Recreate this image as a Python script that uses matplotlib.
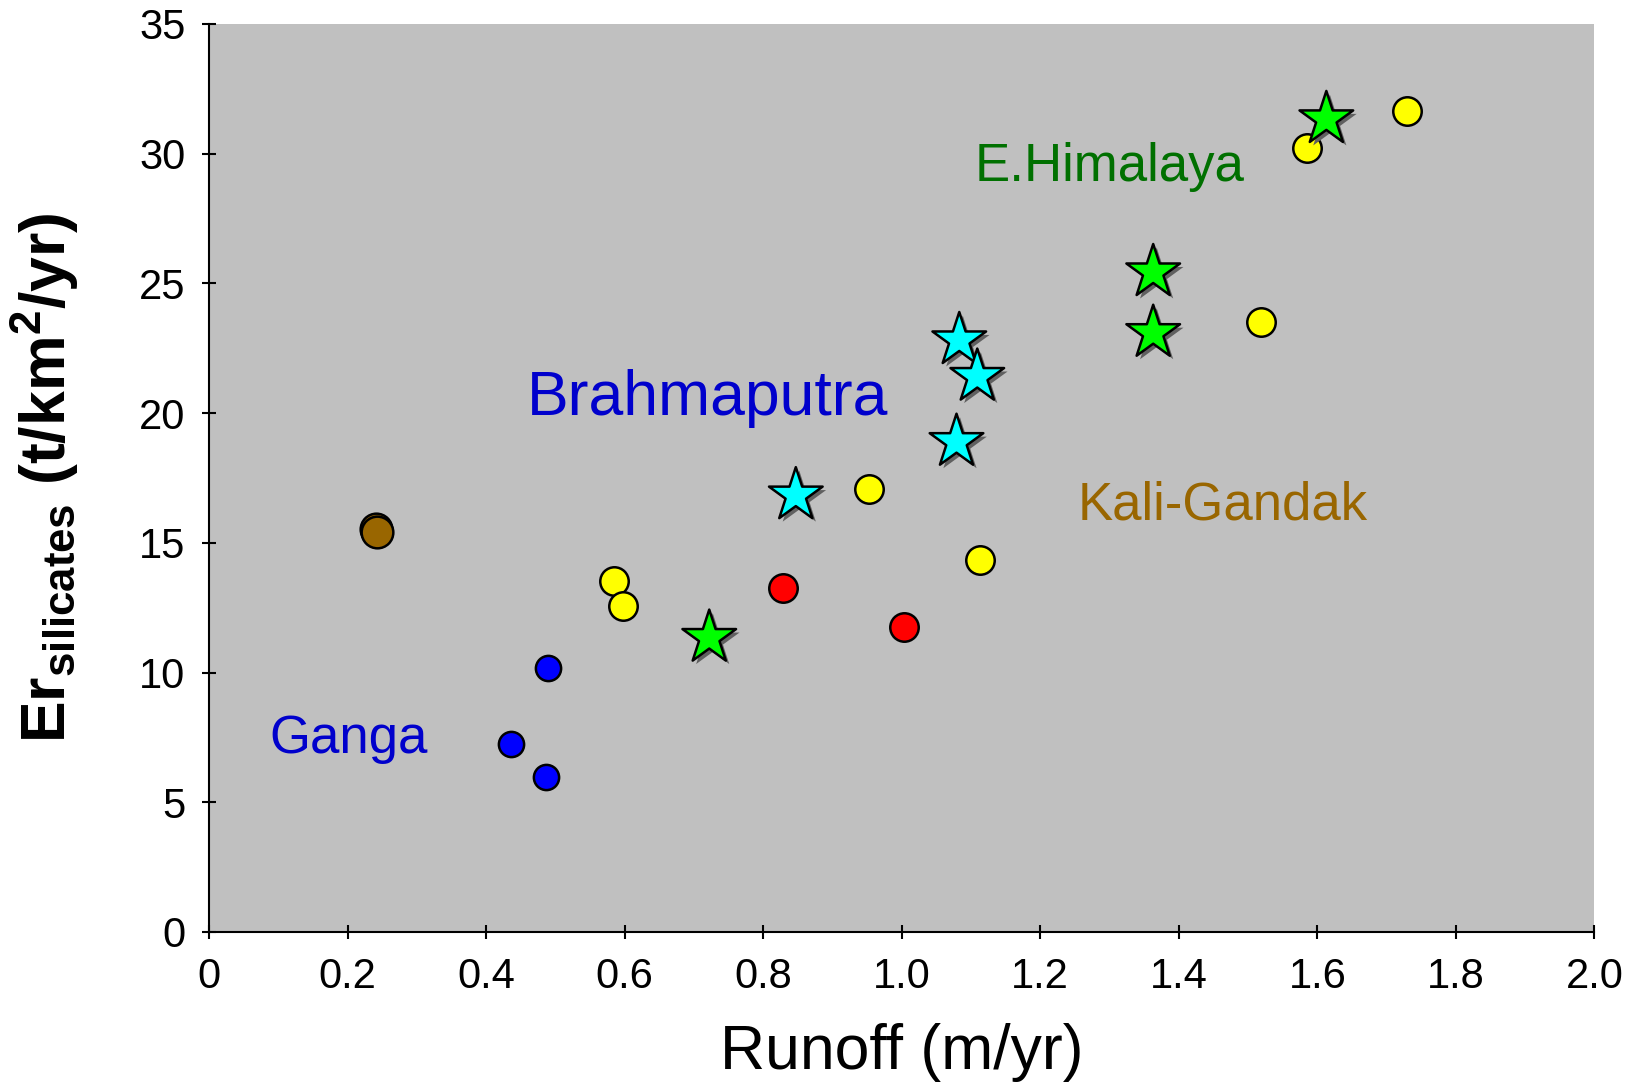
import matplotlib
matplotlib.use("Agg")
import matplotlib.pyplot as plt
import matplotlib.patheffects as pe

plt.rcParams["font.family"] = ["Liberation Sans", "DejaVu Sans"]
plt.rcParams["mathtext.fontset"] = "custom"
plt.rcParams["mathtext.rm"] = "Liberation Sans"
plt.rcParams["mathtext.bf"] = "Liberation Sans:bold"
plt.rcParams["mathtext.it"] = "Liberation Sans:italic"

# ==========================
# DATA
# ==========================
ganga_x = [0.489, 0.436, 0.486]
ganga_y = [10.17, 7.23, 5.97]

kali_x = [0.241, 0.243]
kali_y = [15.52, 15.42]

yellow_x = [0.585, 0.598, 0.953, 1.113, 1.519, 1.585, 1.729]
yellow_y = [13.52, 12.55, 17.08, 14.33, 23.53, 30.20, 31.65]

red_x = [0.829, 1.003]
red_y = [13.24, 11.75]

ehim_x = [0.722, 1.363, 1.363, 1.613]
ehim_y = [11.34, 25.43, 23.09, 31.33]

brahma_x = [0.847, 1.083, 1.109, 1.079]
brahma_y = [16.83, 22.81, 21.40, 18.89]

x_ticks = [0, 0.2, 0.4, 0.6, 0.8, 1.0, 1.2, 1.4, 1.6, 1.8, 2.0]
x_tick_labels = ["0", "0.2", "0.4", "0.6", "0.8", "1.0", "1.2", "1.4", "1.6", "1.8", "2.0"]
y_ticks = [0, 5, 10, 15, 20, 25, 30, 35]

# ==========================
# PLOT
# ==========================
fig = plt.figure(figsize=(16.42, 10.87), dpi=100)
ax = fig.add_axes([0.1274, 0.1426, 0.8436, 0.8354])
ax.set_facecolor("#C0C0C0")

circle_kw = dict(edgecolors="black", linewidths=1.8, zorder=3)
ax.scatter(kali_x, kali_y, s=520, c="#996600", **circle_kw)
ax.scatter(yellow_x, yellow_y, s=420, c="#FFFF00", **circle_kw)
ax.scatter(red_x, red_y, s=420, c="#FF0000", **circle_kw)
ax.scatter(ganga_x, ganga_y, s=330, c="#0000FF", **circle_kw)

shadow = [pe.SimplePatchShadow(offset=(2.5, -2.5), shadow_rgbFace="#606060", alpha=1.0), pe.Normal()]
star_kw = dict(marker="*", s=1650, edgecolors="black", linewidths=1.8, zorder=4)
ax.scatter(ehim_x, ehim_y, c="#00FF00", path_effects=shadow, **star_kw)
ax.scatter(brahma_x, brahma_y, c="#00FFFF", path_effects=shadow, **star_kw)

ax.text(1.2995, 29.5, "E.Himalaya", color="#007000", fontsize=38, ha="center", va="center")
ax.text(0.720, 20.55, "Brahmaputra", color="#0000CC", fontsize=45, ha="center", va="center")
ax.text(1.463, 16.45, "Kali-Gandak", color="#996600", fontsize=38, ha="center", va="center")
ax.text(0.201, 7.45, "Ganga", color="#0000CC", fontsize=38, ha="center", va="center")

ax.set_xlim(0, 2.0)
ax.set_ylim(0, 35)
ax.set_xticks(x_ticks)
ax.set_xticklabels(x_tick_labels)
ax.set_yticks(y_ticks)

for side in ["top", "right"]:
    ax.spines[side].set_visible(False)
for side in ["left", "bottom"]:
    ax.spines[side].set_linewidth(1.5)

ax.tick_params(direction="inout", length=10, width=1.5, labelsize=30)
ax.tick_params(axis="x", pad=13)
ax.tick_params(axis="y", pad=12)

ax.set_xlabel("Runoff (m/yr)", fontsize=45, labelpad=19)
ax.set_ylabel(r"$\mathbf{Er_{silicates}\ (t/km^{2}/yr)}$", fontsize=45, labelpad=42)

fig.savefig("out.png", dpi=100)
